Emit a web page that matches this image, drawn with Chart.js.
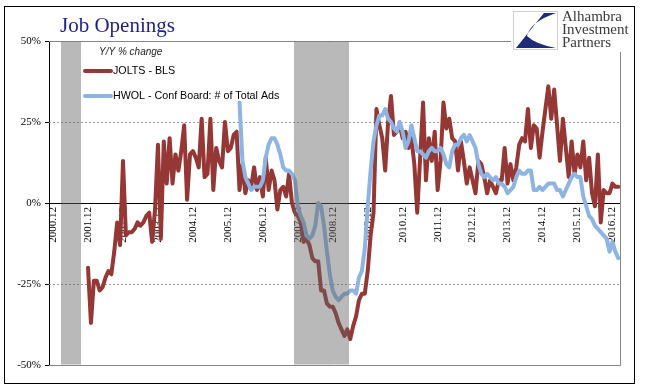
<!DOCTYPE html>
<html>
<head>
<meta charset="utf-8">
<script src="https://cdn.jsdelivr.net/npm/chart.js@4.4.0/dist/chart.umd.min.js"></script>
<style>
  html, body { margin: 0; padding: 0; background: #fff; }
  #wrap { position: relative; width: 648px; height: 392px; }
</style>
</head>
<body>
<div id="wrap"><canvas id="chart" width="648" height="392"></canvas></div>
<script>
// Month offsets are counted from 2000.12 (= 0)
const yearTicks = ['2000.12', '2001.12', '2002.12', '2003.12', '2004.12', '2005.12', '2006.12', '2007.12',
  '2008.12', '2009.12', '2010.12', '2011.12', '2012.12', '2013.12', '2014.12', '2015.12', '2016.12'];

const recessionStart = ['2001.03', '2007.11'];
const recessionEnd = ['2001.10', '2009.06'];

// JOLTS - BLS, Y/Y % change, monthly from 2001.12
const joltsStart = '2001.12';
const joltsYoY = [
  -20, -37, -24, -24, -27, -26, -23, -21, -22, -15, -6, -13,
  13, -10, -9, -9, -8, -6, -7, -6, -4, -3, -12, -2,
  18, -11, 19, 6, 20, 6, 15, 10, 16, 24, 1, 15,
  16, 14, 11, 26, 8, 9, 26, 4, 17, 13, 11, 25,
  16, 17, 21, 22, 4, 12, 3, 7, 5, 11, 4, 8,
  2, 14, 4, 10, 7, -2, 4, 5, 2, 9, 0, -3,
  -4, -6, -12, -11, -13, -17, -18, -18, -27, -27, -31, -32,
  -32, -34, -37, -39, -41, -39, -42, -38, -35, -30, -28, -28,
  -21, -10, -3, 29, 24, 20, 10, 25, 33, 21, 22, 24,
  20, 22, 17, 20, 12, -3, 14, 31, 7, 20, 13, 22,
  4, 13, 31, 23, 26, 20, 19, 10, 19, 13, 6, 11,
  7, 3, 13, 12, 8, 3, 7, 5, 3, 7, 7, 17,
  6, 12, 7, 11, 18, 20, 19, 29, 17, 24, 23, 14,
  22, 29, 36, 26, 35, 24, 13, 26, 17, 8, 19, 9,
  15, 11, 19, 7, 14, 3, -1, 15, -6, 4, 3, 3,
  6, 5, 5
];

// HWOL - Conf Board: # of Total Ads, Y/Y % change, monthly from 2006.04
const hwolStart = '2006.04';
const hwolYoY = [
  31, 13, 8, 6, 4, 5, 5, 5, 7, 14, 18, 20,
  20, 18, 15, 11, 10, 10, 9, 7, -1, -4, -6, -10,
  -11, -10, -7, 0, -1, -7, -15, -22, -27, -29, -30, -29,
  -28, -28, -27, -27, -28, -23, -21, -14, -1, 10, 19, 24,
  27, 27, 29, 26, 25, 23, 22, 25, 22, 17, 19, 24,
  20, 16, 16, 15, 14, 16, 17, 16, 16, 17, 15, 12,
  11, 16, 18, 18, 20, 21, 19, 21, 19, 17, 12, 9,
  8, 9, 8, 7, 8, 6, 6, 5, 3, 4, 5, 8,
  10, 9, 9, 10, 10, 4, 4, 5, 4, 5, 6, 6,
  6, 4, 4, 2, 4, 6, 8, 9, 8, 8, 2, -1,
  -4, -5, -7, -8, -9, -10, -11, -15, -12, -15, -17
];

const COLORS = {
  jolts: '#953735',
  hwol: '#8db4e2',
  title: '#1f1f87',
  grid: '#9a9a9a',
  frame: '#868686',
  band: 'rgba(100, 100, 100, 0.45)',
};

function monthIndex(label) {
  const [y, m] = label.split('.').map(Number);
  return (y - 2000) * 12 + m - 12;
}

function toPoints(startLabel, values) {
  const s = monthIndex(startLabel);
  return values.map((v, i) => ({ x: s + i, y: v }));
}

// reference lines, recession shading, legend, title and logo
const decorations = {
  id: 'decorations',
  beforeDatasetsDraw(chart) {
    const { ctx, chartArea: a, scales: { y } } = chart;
    ctx.save();
    ctx.lineWidth = 1;
    ctx.strokeStyle = COLORS.grid;
    ctx.setLineDash([2, 2]);
    [25, -25].forEach(v => {
      const py = Math.round(y.getPixelForValue(v)) + 0.5;
      ctx.beginPath(); ctx.moveTo(a.left, py); ctx.lineTo(a.right, py); ctx.stroke();
    });
    ctx.setLineDash([]);
    ctx.strokeStyle = COLORS.frame;
    const top = Math.round(y.getPixelForValue(50)) + 0.5;
    const bot = Math.round(y.getPixelForValue(-50)) + 0.5;
    const right = Math.round(a.right) + 0.5;
    ctx.beginPath();
    ctx.moveTo(a.left, top); ctx.lineTo(right, top); ctx.lineTo(right, bot); ctx.lineTo(a.left, bot);
    ctx.stroke();
    ctx.restore();
  },
  afterDatasetsDraw(chart) {
    const { ctx, chartArea: a, scales: { x } } = chart;
    ctx.save();
    ctx.fillStyle = COLORS.band;
    recessionStart.forEach((s, i) => {
      const x0 = x.getPixelForValue(monthIndex(s) - 0.25);
      const x1 = x.getPixelForValue(monthIndex(recessionEnd[i]) - 0.25);
      ctx.fillRect(Math.round(x0), a.top + 0.5, Math.round(x1 - x0), a.bottom - a.top - 1);
    });
    ctx.restore();
  },
  afterDraw(chart) {
    const { ctx } = chart;
    ctx.save();

    // legend
    ctx.font = "italic 10px 'Liberation Sans', Arial, sans-serif";
    ctx.fillStyle = '#222';
    ctx.textBaseline = 'alphabetic';
    ctx.fillText('Y/Y % change', 99, 55);
    [['JOLTS - BLS', COLORS.jolts, 71], ['HWOL - Conf Board: # of Total Ads', COLORS.hwol, 96]].forEach(([t, c, yy]) => {
      ctx.strokeStyle = c;
      ctx.lineWidth = 4;
      ctx.lineCap = 'round';
      ctx.beginPath(); ctx.moveTo(85, yy); ctx.lineTo(111, yy); ctx.stroke();
      ctx.fillStyle = '#000';
      ctx.font = "10.7px 'Liberation Sans', Arial, sans-serif";
      ctx.textBaseline = 'middle';
      ctx.fillText(t, 113, yy);
    });

    // title
    ctx.font = "21px 'Liberation Serif', 'Times New Roman', serif";
    ctx.fillStyle = COLORS.title;
    ctx.textBaseline = 'alphabetic';
    ctx.fillText('Job Openings', 60, 32);

    // logo
    ctx.fillStyle = '#fff';
    ctx.fillRect(511, 7, 122, 45);
    ctx.strokeStyle = '#d0d0d0';
    ctx.lineWidth = 1;
    ctx.strokeRect(513.5, 11.5, 44, 38);
    ctx.fillStyle = '#1d2b7a';
    ctx.beginPath();
    ctx.moveTo(544, 13);
    ctx.lineTo(556, 13);
    ctx.quadraticCurveTo(530, 22, 527, 36);
    ctx.quadraticCurveTo(535, 44, 556, 48);
    ctx.lineTo(516, 48);
    ctx.closePath();
    ctx.fill();
    ctx.font = "15px 'Liberation Serif', 'Times New Roman', serif";
    ctx.fillStyle = '#3a3a3a';
    ctx.fillText('Alhambra', 562, 21);
    ctx.fillText('Investment', 562, 34);
    ctx.fillText('Partners', 562, 47);

    // outer frame
    ctx.strokeStyle = '#000';
    ctx.lineWidth = 1;
    ctx.strokeRect(4.5, 6.5, 630, 377);
    ctx.restore();
  },
};

new Chart(document.getElementById('chart'), {
  type: 'line',
  data: {
    datasets: [
      {
        label: 'JOLTS - BLS',
        data: toPoints(joltsStart, joltsYoY),
        borderColor: COLORS.jolts,
        borderWidth: 4,
        pointRadius: 0,
        tension: 0,
        borderJoinStyle: 'round',
        borderCapStyle: 'round',
        order: 2,
      },
      {
        label: 'HWOL - Conf Board: # of Total Ads',
        data: toPoints(hwolStart, hwolYoY),
        borderColor: COLORS.hwol,
        borderWidth: 4,
        pointRadius: 0,
        tension: 0,
        borderJoinStyle: 'round',
        borderCapStyle: 'round',
        order: 1,
      },
    ],
  },
  options: {
    responsive: false,
    animation: false,
    events: [],
    layout: { padding: { left: 0, top: 41, right: 28, bottom: 27 } },
    plugins: {
      legend: { display: false },
      tooltip: { enabled: false },
    },
    scales: {
      x: {
        type: 'linear',
        position: { y: 0 },
        min: -1.4,
        max: 194.6,
        afterBuildTicks: scale => {
          scale.ticks = yearTicks.map(t => ({ value: monthIndex(t) }));
        },
        grid: { display: false, drawTicks: false },
        border: { display: true, color: '#000', width: 1 },
        ticks: {
          autoSkip: false,
          minRotation: 90,
          maxRotation: 90,
          padding: 4,
          color: '#000',
          font: { family: "'Liberation Serif', 'Times New Roman', serif", size: 11 },
          callback: (v, i) => yearTicks[i],
        },
      },
      y: {
        min: -50,
        max: 50,
        afterFit: scale => { scale.width = 49; },
        grid: { drawOnChartArea: false, drawTicks: true, tickLength: 4, color: '#000' },
        border: { display: true, color: '#000', width: 1 },
        ticks: {
          stepSize: 25,
          padding: 4,
          color: '#000',
          font: { family: "'Liberation Serif', 'Times New Roman', serif", size: 11 },
          callback: v => v + '%',
        },
      },
    },
  },
  plugins: [decorations],
});
</script>
</body>
</html>
